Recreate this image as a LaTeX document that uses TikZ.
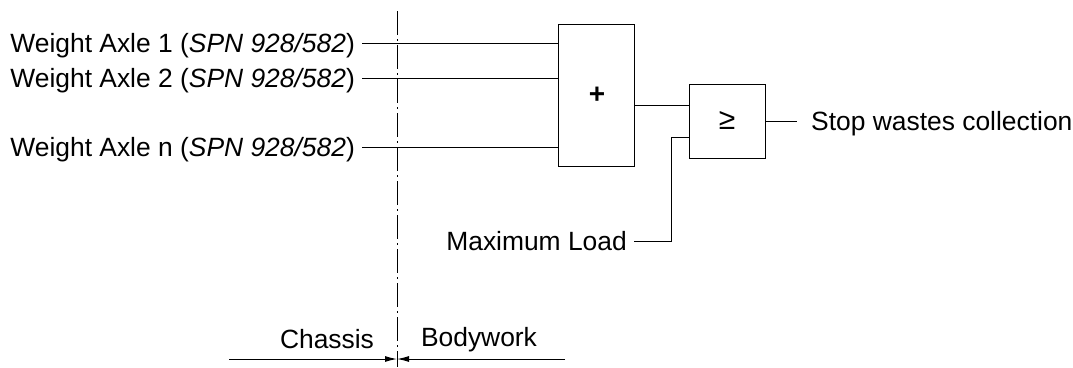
\documentclass[tikz,border=0pt]{standalone}
\usepackage{fontspec}
\setmainfont{Liberation Sans}
\usetikzlibrary{arrows.meta}
\begin{document}
\begin{tikzpicture}[x=1pt,y=-1pt,
  lbl/.style={font=\fontsize{26.4}{28}\selectfont, inner sep=0pt},
  blk/.style={draw, line width=1pt, inner sep=0pt},
  wire/.style={line width=1pt},
  sep/.style={line width=0.8pt, dash pattern=on 24pt off 4pt on 2pt off 4pt},
  dimarrow/.style={line width=1pt, -{Latex[length=12pt,width=6pt]}}]
\useasboundingbox (0,0) rectangle (1073,367);
% blocks
\node[blk, minimum width=76pt, minimum height=142pt] (sum) at (596,95) {};
\node[lbl, font=\fontsize{28}{30}\selectfont\bfseries] (plus) at (597,95) {+};
\node[blk, minimum width=76pt, minimum height=74pt] (cmp) at (727,121) {};
\node[lbl, font=\fontsize{30}{32}\selectfont] (ge) at (727,120) {≥};
% labels
\node[lbl, anchor=base east] (in1) at (355,52) {Weight Axle 1 (\textit{SPN 928/582})};
\node[lbl, anchor=base east] (in2) at (355,87) {Weight Axle 2 (\textit{SPN 928/582})};
\node[lbl, anchor=base east] (inn) at (355,156) {Weight Axle n (\textit{SPN 928/582})};
\node[lbl, anchor=base east] (max) at (627,250) {Maximum Load};
\node[lbl, anchor=base west] (out) at (811,130) {Stop wastes collection};
\node[lbl, anchor=base] (chassis) at (327,348) {Chassis};
\node[lbl, anchor=base] (body) at (479,346) {Bodywork};
% separator
\coordinate (sepT) at (397,11);
\coordinate (sepB) at (397,367);
\draw[sep] (sepT) -- (sepB);
% wire ends
\coordinate (w1) at (362,43);
\coordinate (w2) at (362,78);
\coordinate (wn) at (362,147);
\coordinate (s1) at (634,105);
\coordinate (m0) at (634,241);
\coordinate (m1) at (671,137);
\coordinate (m2) at (671,241);
\coordinate (o1) at (797,121);
% wires
\draw[wire] (w1) -- (sum.west |- w1);
\draw[wire] (w2) -- (sum.west |- w2);
\draw[wire] (wn) -- (sum.west |- wn);
\draw[wire] (s1) -- (cmp.west |- s1);
\draw[wire] (m0) -- (m2) -- (m1) -- (cmp.west |- m1);
\draw[wire] (cmp.east) -- (o1);
\coordinate (aL) at (229,359);
\coordinate (aR) at (565,359);
\coordinate (aM) at (397,359);
\draw[dimarrow] (aL) -- (aM);
\draw[dimarrow] (aR) -- (aM);
\end{tikzpicture}
\end{document}
